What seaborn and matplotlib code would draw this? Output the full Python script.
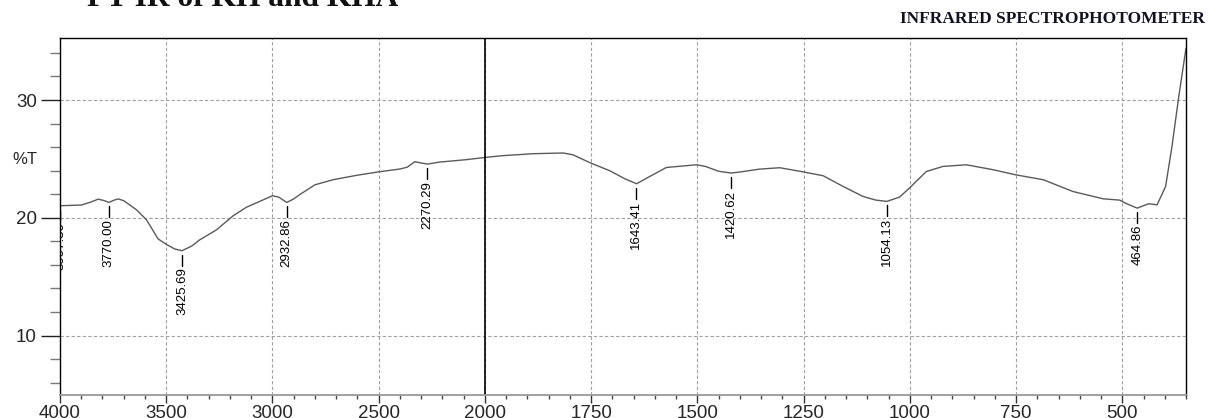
import numpy as np
import matplotlib
matplotlib.use('Agg')
import matplotlib.pyplot as plt
import seaborn as sns

# FT-IR spectrum (wavenumber in cm-1, transmittance in %T)
wavenumber = [4000, 3950, 3900, 3860, 3820, 3790, 3770, 3745, 3726, 3700,
              3640, 3593, 3538, 3500, 3460, 3426, 3380, 3342, 3263, 3185,
              3122, 3060, 3000, 2970, 2933, 2900, 2873, 2800, 2715, 2605,
              2500, 2400, 2365, 2330, 2300, 2270, 2213, 2090, 2000, 1960,
              1887, 1816, 1793, 1751, 1706, 1670, 1643, 1622, 1573, 1502,
              1481, 1450, 1421, 1401, 1354, 1306, 1259, 1204, 1157, 1110,
              1080, 1054, 1024, 1001, 961, 922, 867, 804, 751, 686,
              616, 545, 506, 490, 465, 438, 418, 398, 383, 367, 350]
transmittance = [21.02, 21.05, 21.08, 21.3, 21.58, 21.45, 21.3, 21.5, 21.6, 21.45,
                 20.68, 19.83, 18.2, 17.75, 17.35, 17.2, 17.6, 18.13, 18.98, 20.17,
                 20.9, 21.39, 21.87, 21.75, 21.3, 21.6, 21.95, 22.8, 23.23, 23.6,
                 23.9, 24.14, 24.3, 24.76, 24.65, 24.56, 24.73, 24.93, 25.12, 25.27,
                 25.44, 25.5, 25.35, 24.65, 23.99, 23.3, 22.89, 23.31, 24.27, 24.5,
                 24.36, 23.95, 23.8, 23.88, 24.13, 24.25, 23.95, 23.57, 22.66, 21.81,
                 21.5, 21.39, 21.76, 22.52, 23.93, 24.36, 24.5, 24.08, 23.65, 23.23,
                 22.23, 21.61, 21.5, 21.2, 20.82, 21.19, 21.1, 22.66, 26.06, 30.3, 34.4]

# picked peaks
peak_wn = [3997.80, 3770.00, 3425.69, 2932.86, 2270.29, 1643.41, 1420.62, 1054.13, 464.86]
peak_t = [21.02, 21.3, 17.2, 21.3, 24.56, 22.89, 23.8, 21.39, 20.82]

x_major = [4000, 3500, 3000, 2500, 2000, 1750, 1500, 1250, 1000, 750, 500]
x_minor = list(range(3900, 2000, -100)) + list(range(1950, 349, -50))
y_major = [10, 20, 30]
y_minor = list(range(6, 36, 2))


def forward(w):
    # 4000-2000 is drawn at half scale, like the instrument print-out
    w = np.asarray(w, dtype=float)
    return np.where(w > 2000, 2000 + (w - 2000) / 2.0, w)


def inverse(u):
    u = np.asarray(u, dtype=float)
    return np.where(u > 2000, 2000 + (u - 2000) * 2.0, u)


sns.set_style('white')
plt.rcParams['font.family'] = ['Liberation Sans', 'DejaVu Sans']

fig = plt.figure(figsize=(12.08, 4.18), dpi=100)
ax = fig.add_axes([0.04967, 0.05502, 0.93212, 0.85335])

sns.lineplot(x=wavenumber, y=transmittance, ax=ax, color='#5a5a5a', linewidth=1.0)

ax.set_xscale('function', functions=(forward, inverse))
ax.set_xlim(4000, 350)
ax.set_ylim(4.95, 35.24)

ax.set_xticks(x_major)
ax.set_xticklabels([str(v) for v in x_major])
ax.set_xticks(x_minor, minor=True)
ax.set_yticks(y_major)
ax.set_yticklabels([str(v) for v in y_major])
ax.set_yticks(y_minor, minor=True)

ax.grid(True, which='major', linestyle=(0, (3, 2)), color='#a0a0a0', linewidth=0.8)
ax.axvline(2000, color='black', linewidth=1.2)

ax.tick_params(axis='y', which='major', direction='out', length=13.7, width=1.0,
               color='#222222', labelsize=13.5, pad=3, left=True)
ax.tick_params(axis='y', which='minor', direction='out', length=7.2, width=1.0,
               color='#777777', left=True)
ax.tick_params(axis='x', which='major', direction='out', length=5.5, width=1.0,
               color='#333333', labelsize=13.5, pad=1.5, bottom=True)
ax.tick_params(axis='x', which='minor', direction='out', length=3, width=1.0,
               color='#444444', bottom=True)

for side in ['left', 'top', 'right']:
    ax.spines[side].set_color('black')
    ax.spines[side].set_linewidth(1.0)
ax.spines['bottom'].set_color('#999999')
ax.spines['bottom'].set_linewidth(1.3)

# peak markers and labels
for w, t in zip(peak_wn, peak_t):
    ax.plot([w, w], [t - 0.34, t - 1.27], color='black', linewidth=1.0)
    ax.text(w, t - 1.42, f'{w:.2f}', rotation=90, ha='center', va='top',
            fontsize=9.5, color='black', clip_on=True)

fig.text(25 / 1208, 1 - 160 / 418, '%T', ha='center', va='center', fontsize=12)
fig.text(87 / 1208, 1 - 5.5 / 418, 'FT-IR of KH and KHA', ha='left', va='baseline',
         fontsize=22.7, weight='bold', family='Liberation Serif', color='#111111')
fig.text(1205 / 1208, 1 - 22.7 / 418, 'INFRARED SPECTROPHOTOMETER', ha='right',
         va='baseline', fontsize=12.5, weight='bold', family='Liberation Serif',
         color='#111122')

fig.savefig('out.png', dpi=100)
